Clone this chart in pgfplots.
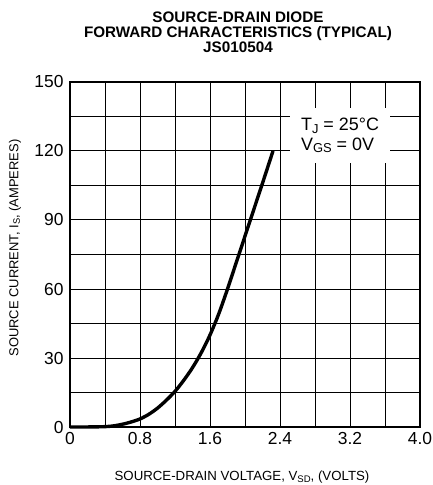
\documentclass[border=0pt]{standalone}
\usepackage{fontspec}
\setmainfont{Liberation Sans}
\usepackage{pgfplots}
\pgfplotsset{compat=1.18}
\newcommand\sub[1]{\raisebox{-0.12em}{\scalebox{0.72}{#1}}}
\begin{document}
\begin{tikzpicture}
\useasboundingbox (-70bp,-58bp) rectangle (363bp,427bp);
\begin{axis}[
  scale only axis,
  width=350bp, height=345bp,
  xmin=0, xmax=4, ymin=0, ymax=150,
  xtick={0,0.8,1.6,2.4,3.2,4.0},
  minor xtick={0.4,1.2,2.0,2.8,3.6},
  ytick={0,30,60,90,120,150},
  minor ytick={15,45,75,105,135},
  xticklabels={0,0.8,1.6,2.4,3.2,4.0},
  yticklabels={0,30,60,90,120,150},
  grid=both,
  major grid style={black, line width=1pt},
  minor grid style={black, line width=1pt},
  axis line style={black, line width=1.8pt},
  tick style={draw=none},
  /pgf/number format/assume math mode=true,
  ticklabel style={font=\fontsize{17.5}{20}\selectfont},
  xticklabel style={yshift=-2bp},
  yticklabel style={xshift=-3bp},
  clip=false,
]
\addplot[black, line width=3.4pt, smooth, tension=0.5] coordinates {
 (0,0) (0.2,0.02) (0.4,0.15) (0.5,0.5) (0.6,1.2) (0.7,2.2) (0.8,3.5)
 (0.9,5.5) (1.0,8.2) (1.1,11.6) (1.2,15.5) (1.3,20.3) (1.4,25.8) (1.5,32.3)
 (1.6,40) (1.7,49.2) (1.8,60) (1.9,71.5) (2.0,83) (2.1,94.5) (2.2,106) (2.32,120)
};
\node[fill=white, minimum width=100bp, minimum height=55bp, align=left,
  font=\fontsize{18}{19.5}\selectfont, inner sep=0pt]
  at (axis cs:3.086,126.7)
  {T\sub{J} = 25°C\\V\sub{GS} = 0V};
\end{axis}
\node[align=center, font=\bfseries\fontsize{15.3}{15}\selectfont]
  at (168bp,394.5bp) {SOURCE-DRAIN DIODE\\FORWARD CHARACTERISTICS (TYPICAL)\\JS010504};
\node[font=\fontsize{13.3}{15}\selectfont] at (172bp,-50bp)
  {SOURCE-DRAIN VOLTAGE, V\sub{SD}, (VOLTS)};
\node[font=\fontsize{13}{15}\selectfont, rotate=90] at (-55bp,179bp)
  {SOURCE CURRENT, I\sub{S}, (AMPERES)};
\end{tikzpicture}
\end{document}
